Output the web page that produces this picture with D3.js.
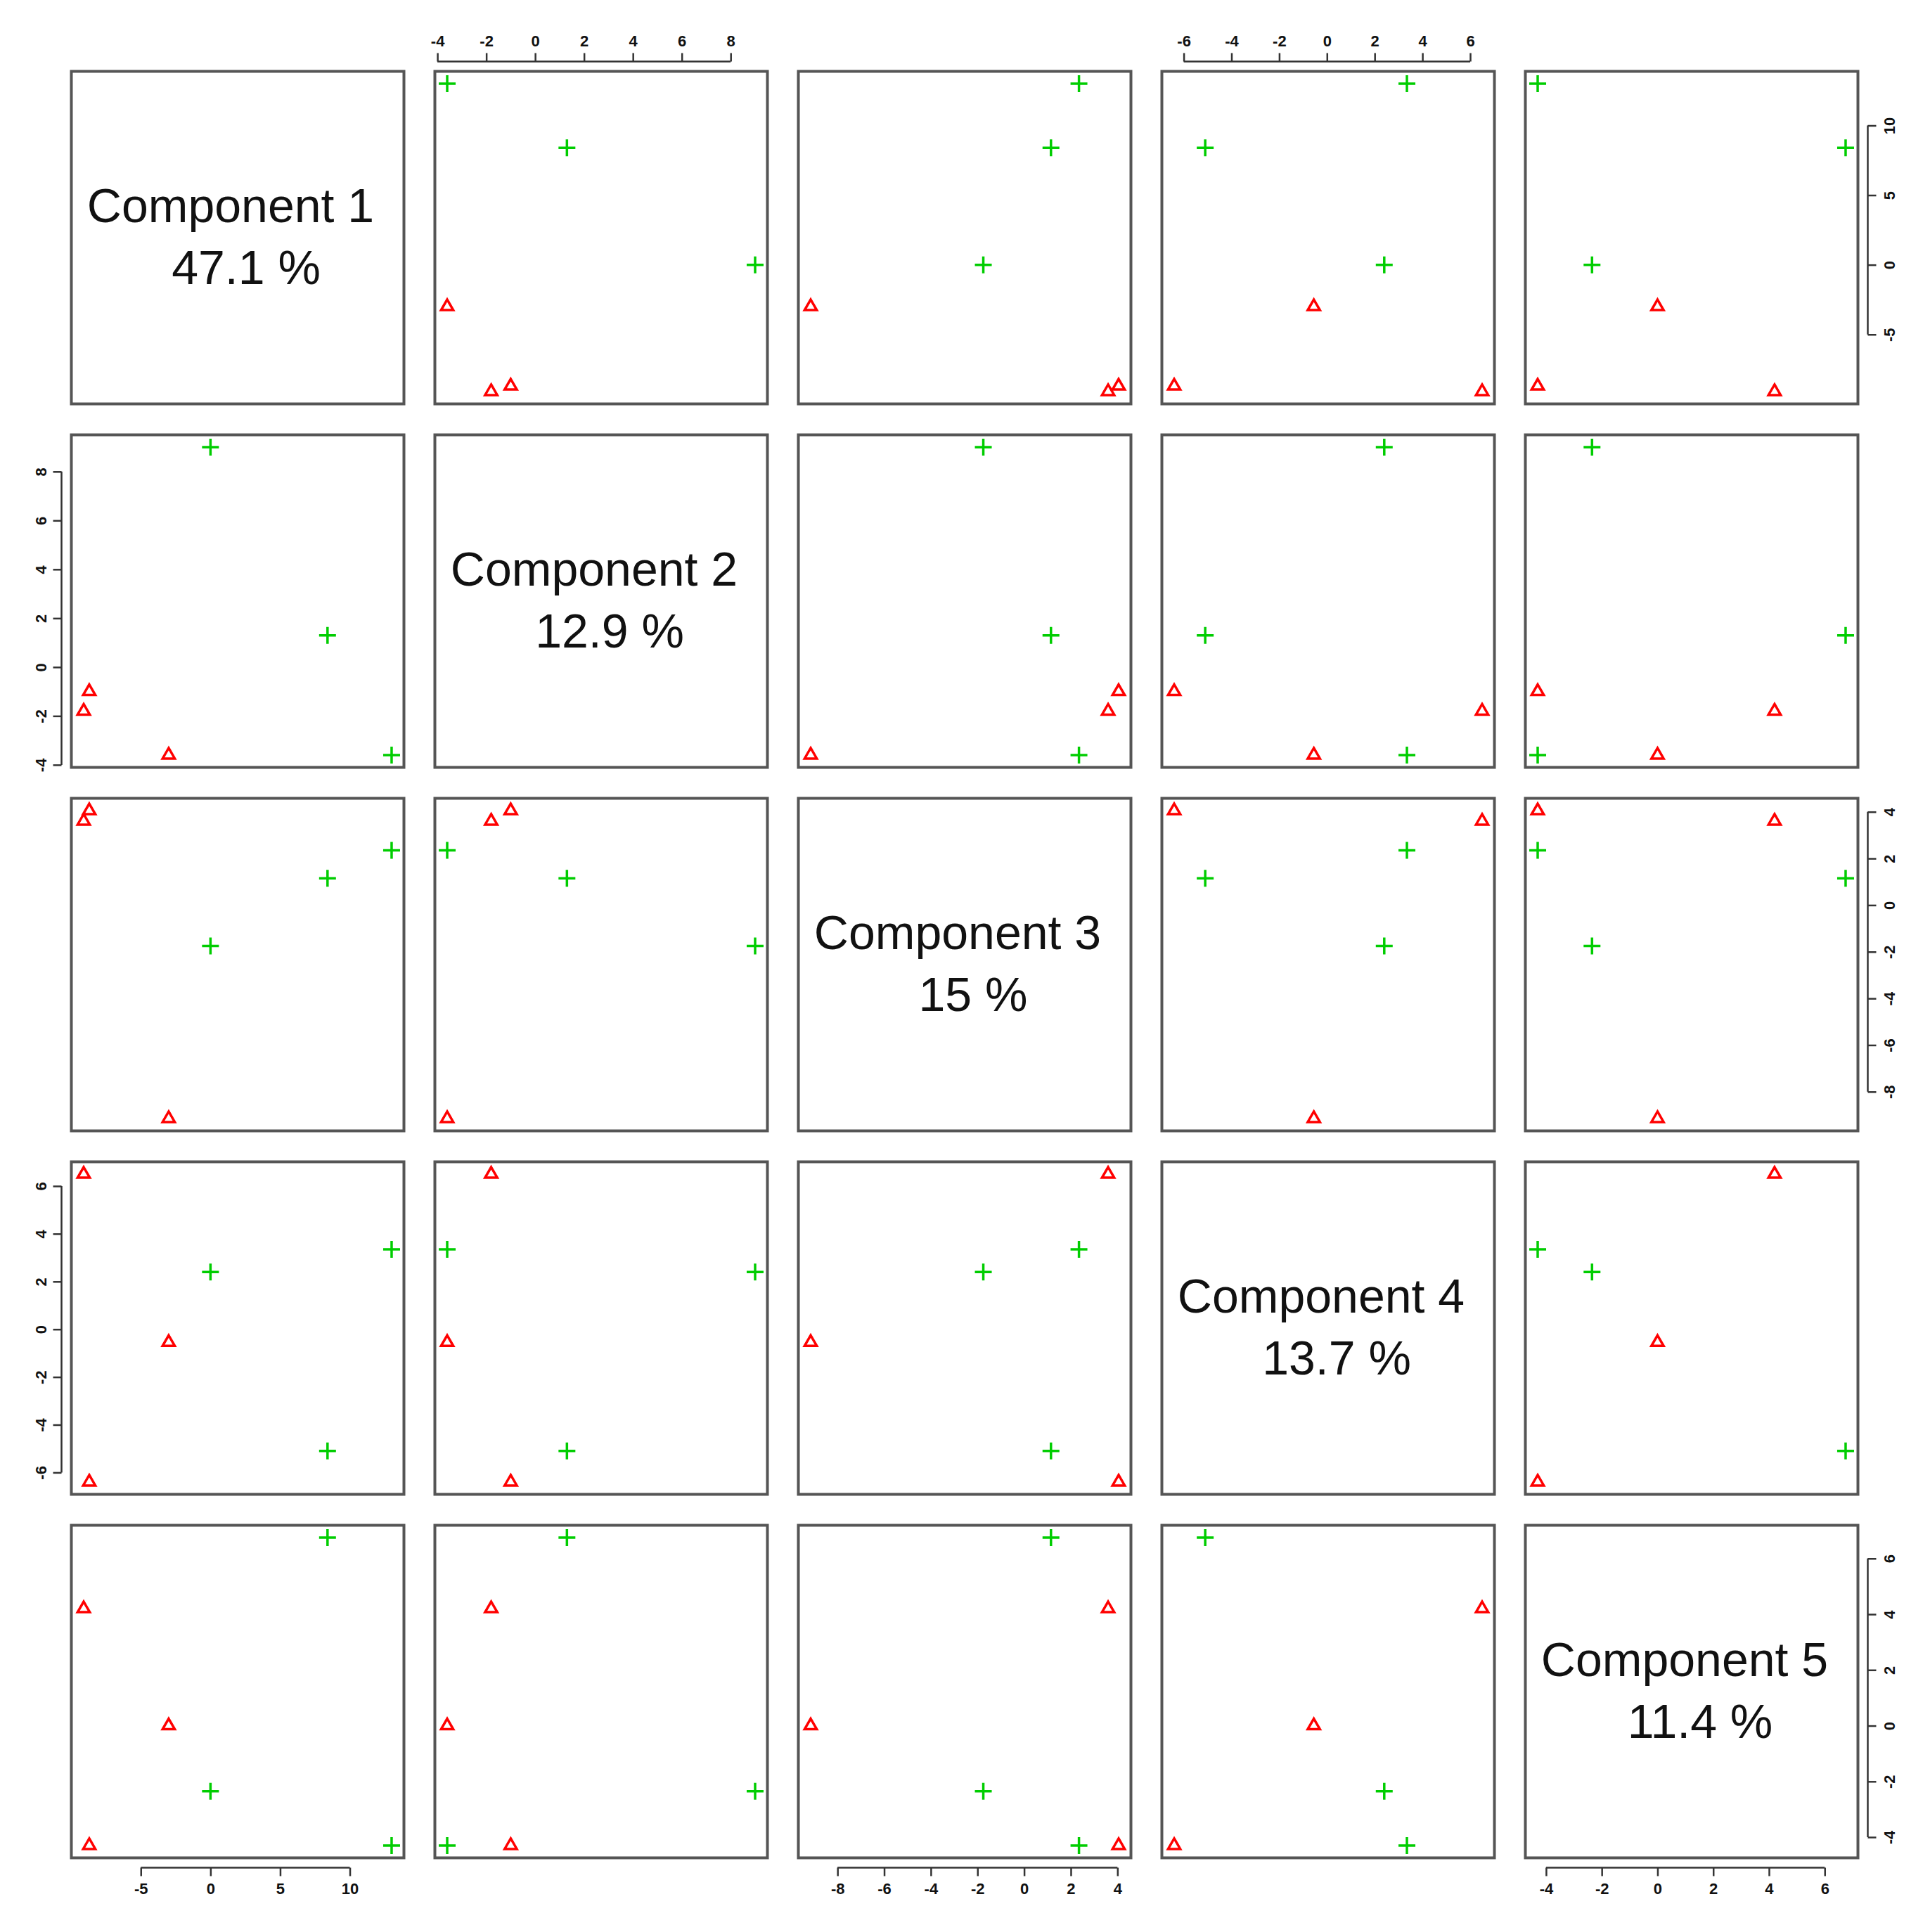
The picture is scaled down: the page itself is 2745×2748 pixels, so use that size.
<!DOCTYPE html>
<html>
<head>
<meta charset="utf-8">
<script src="https://cdn.jsdelivr.net/npm/d3@7"></script>
<style>
  body { margin: 0; background: #fff; }
  svg text { font-family: "Liberation Sans", Arial, sans-serif; }
</style>
</head>
<body>
<script>
// component scores of the six samples
const components = ['Component 1', 'Component 2', 'Component 3', 'Component 4', 'Component 5'];
const variance = ['47.1 %', '12.9 %', '15 %', '13.7 %', '11.4 %'];
const groups = ['b', 'b', 'b', 'a', 'a', 'a'];
const pc1 = [0.0, 8.4, 13.0, -8.7, -9.1, -3.0];
const pc2 = [9.0, 1.3, -3.6, -1.0, -1.8, -3.6];
const pc3 = [-1.75, 1.15, 2.35, 4.05, 3.6, -9.15];
const pc4 = [2.4, -5.1, 3.35, -6.4, 6.5, -0.55];
const pc5 = [-2.35, 6.75, -4.3, -4.3, 4.2, 0.0];
const tickValues = [
  [-5, 0, 5, 10],
  [-4, -2, 0, 2, 4, 6, 8],
  [-8, -6, -4, -2, 0, 2, 4],
  [-6, -4, -2, 0, 2, 4, 6],
  [-4, -2, 0, 2, 4, 6]
];

const cols = [pc1, pc2, pc3, pc4, pc5];
const n = cols.length;
const width = 2745, height = 2748;
const start = 101.5, step = 517, size = 473;

const svg = d3.select('body').append('svg')
    .attr('width', width)
    .attr('height', height);

// scales with R style 4% padding
const xs = cols.map(v => {
  const e = d3.extent(v), p = (e[1] - e[0]) * 0.04;
  return d3.scaleLinear().domain([e[0] - p, e[1] + p]).range([0, size]);
});
const ys = cols.map(v => {
  const e = d3.extent(v), p = (e[1] - e[0]) * 0.04;
  return d3.scaleLinear().domain([e[0] - p, e[1] + p]).range([size, 0]);
});

const colour = { a: '#ff0000', b: '#00cd00' };
const fmt = d => String(d);

for (let r = 0; r < n; r++) {
  for (let c = 0; c < n; c++) {
    const g = svg.append('g')
        .attr('transform', 'translate(' + (start + c * step) + ',' + (start + r * step) + ')');

    g.append('rect')
        .attr('width', size).attr('height', size)
        .attr('fill', 'none').attr('stroke', '#555').attr('stroke-width', 4);

    if (r === c) {
      g.append('text')
          .attr('x', size / 2 - 10).attr('y', size / 2 - 22)
          .attr('text-anchor', 'middle')
          .style('font-size', '68px').attr('fill', '#111')
          .text(components[r]);
      g.append('text')
          .attr('x', size / 2 + 12).attr('y', size / 2 + 66)
          .attr('text-anchor', 'middle')
          .style('font-size', '68px').attr('fill', '#111')
          .text(variance[r]);
    } else {
      const x = xs[c], y = ys[r];
      const idx = d3.range(groups.length);
      g.selectAll('path.plus')
          .data(idx.filter(i => groups[i] === 'b'))
          .enter().append('path')
          .attr('d', 'M-12,0H12M0,-12V12')
          .attr('transform', i => 'translate(' + x(cols[c][i]) + ',' + y(cols[r][i]) + ')')
          .attr('stroke', colour.b).attr('stroke-width', 3.5).attr('fill', 'none');
      g.selectAll('path.tri')
          .data(idx.filter(i => groups[i] === 'a'))
          .enter().append('path')
          .attr('d', d3.symbol(d3.symbolTriangle, 130))
          .attr('transform', i => 'translate(' + x(cols[c][i]) + ',' + y(cols[r][i]) + ')')
          .attr('stroke', colour.a).attr('stroke-width', 3.5).attr('fill', 'none');
    }

    // axes, alternating like R pairs()
    const tickLen = 12;
    if (r === 0 && c % 2 === 1) {
      const a = g.append('g').call(d3.axisTop(xs[c]).tickValues(tickValues[c]).tickFormat(fmt).tickSize(tickLen).tickPadding(10));
      styleAxis(a, xs[c], tickValues[c], true, -tickLen);
      a.attr('transform', 'translate(0,-14)');
    }
    if (r === n - 1 && c % 2 === 0) {
      const a = g.append('g').call(d3.axisBottom(xs[c]).tickValues(tickValues[c]).tickFormat(fmt).tickSize(tickLen).tickPadding(10));
      styleAxis(a, xs[c], tickValues[c], true, tickLen);
      a.attr('transform', 'translate(0,' + (size + 14) + ')');
    }
    if (c === 0 && r % 2 === 1) {
      const a = g.append('g').call(d3.axisLeft(ys[r]).tickValues(tickValues[r]).tickFormat(fmt).tickSize(tickLen));
      styleAxis(a, ys[r], tickValues[r], false, -tickLen);
      a.attr('transform', 'translate(-14,0)');
      a.selectAll('text').attr('x', null).attr('dy', null)
          .attr('text-anchor', 'middle')
          .attr('transform', 'translate(-22,0) rotate(-90)');
    }
    if (c === n - 1 && r % 2 === 0) {
      const a = g.append('g').call(d3.axisRight(ys[r]).tickValues(tickValues[r]).tickFormat(fmt).tickSize(tickLen));
      styleAxis(a, ys[r], tickValues[r], false, tickLen);
      a.attr('transform', 'translate(' + (size + 14) + ',0)');
      a.selectAll('text').attr('x', null).attr('dy', null)
          .attr('text-anchor', 'middle')
          .attr('transform', 'translate(38,0) rotate(-90)');
    }
  }
}

// R draws the axis line only between the outer ticks
function styleAxis(a, scale, ticks, horizontal) {
  a.select('.domain').remove();
  const lo = scale(ticks[0]), hi = scale(ticks[ticks.length - 1]);
  a.append('line')
      .attr('x1', horizontal ? lo : 0).attr('x2', horizontal ? hi : 0)
      .attr('y1', horizontal ? 0 : lo).attr('y2', horizontal ? 0 : hi);
  a.selectAll('line').attr('stroke', '#333').attr('stroke-width', 2.5);
  a.selectAll('text').style('font-size', '22px').attr('fill', '#111').style('font-weight', 'bold');
}
</script>
</body>
</html>
